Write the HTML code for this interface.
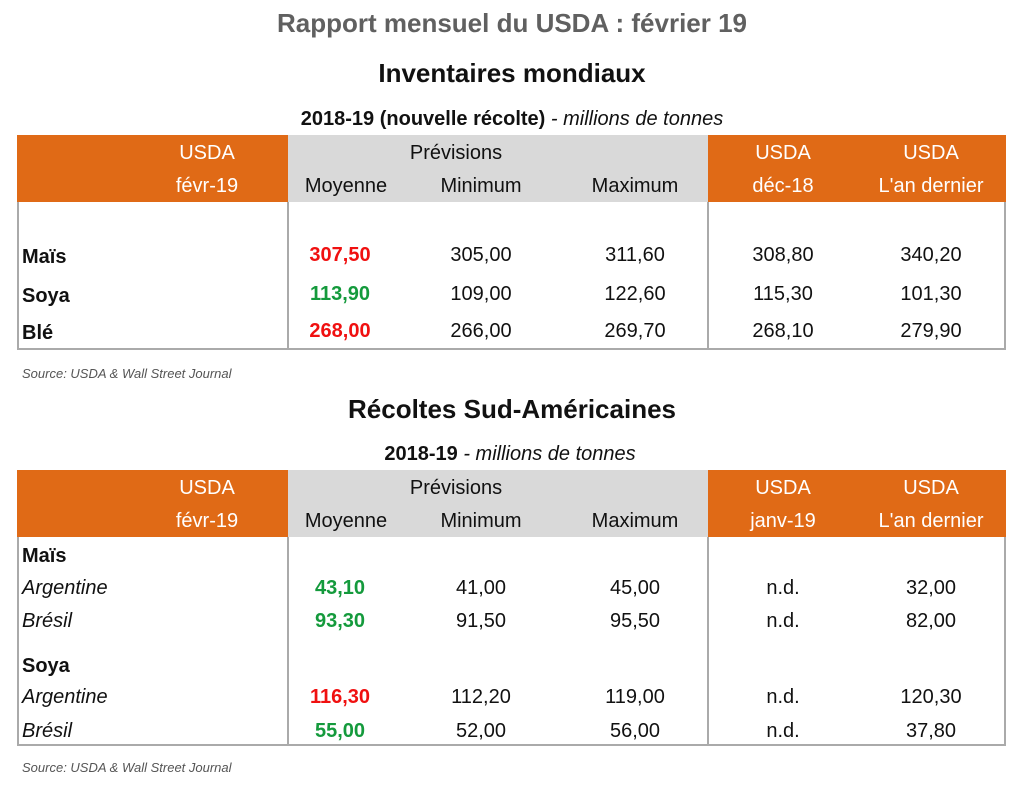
<!DOCTYPE html>
<html><head><meta charset="utf-8">
<style>
body{margin:0;width:1024px;height:786px;background:#fff;position:relative;overflow:hidden;font-family:"Liberation Sans",sans-serif;}
.a{position:absolute;white-space:nowrap;line-height:24px;height:24px;font-size:20px;color:#111;}
.c{transform:translateX(-50%);}
.box{position:absolute;}
</style></head><body>
<div class="a c" style="left:512px;top:8px;font-size:26px;line-height:30px;height:30px;font-weight:bold;color:#606060;">Rapport mensuel du USDA : février 19</div>
<div class="a c" style="left:512px;top:58px;font-size:26px;line-height:30px;height:30px;font-weight:bold;color:#111;">Inventaires mondiaux</div>
<div class="a c" style="left:512px;top:107px;"><b>2018-19 (nouvelle récolte)</b> <i>- millions de tonnes</i></div>
<div class="a c" style="left:512px;top:394px;font-size:26px;line-height:30px;height:30px;font-weight:bold;color:#111;">Récoltes Sud-Américaines</div>
<div class="a c" style="left:510px;top:442px;"><b>2018-19</b> <i>- millions de tonnes</i></div>
<div class="a" style="left:22px;top:362px;font-size:13px;font-style:italic;color:#555;">Source: USDA &amp; Wall Street Journal</div>
<div class="a" style="left:22px;top:756px;font-size:13px;font-style:italic;color:#555;">Source: USDA &amp; Wall Street Journal</div>
<div id="root"></div>
<script>
const colX=[340,481,635,783,931];
const t1Rows=["Maïs","Soya","Blé"];
const t1Vals=[["307,50","305,00","311,60","308,80","340,20"],["113,90","109,00","122,60","115,30","101,30"],["268,00","266,00","269,70","268,10","279,90"]];
const t1Color=["#f01010","#149a3c","#f01010"];
const t1Y=[255,294,331];
const t2Rows=["Maïs","Argentine","Brésil","Soya","Argentine","Brésil"];
const t2Vals=[null,["43,10","41,00","45,00","n.d.","32,00"],["93,30","91,50","95,50","n.d.","82,00"],null,["116,30","112,20","119,00","n.d.","120,30"],["55,00","52,00","56,00","n.d.","37,80"]];
const t2Color=[null,"#149a3c","#149a3c",null,"#f01010","#149a3c"];
const t2Y=[554,588,621,664,697,731];
const root=document.getElementById('root');
function txt(s,x,y,center,style){const d=document.createElement('div');d.className='a'+(center?' c':'');d.textContent=s;d.style.left=x+'px';d.style.top=(y-12)+'px';if(style)d.style.cssText+=style;root.appendChild(d);return d;}
function box(x,y,w,h,style){const d=document.createElement('div');d.className='box';d.style.cssText+=`left:${x}px;top:${y}px;width:${w}px;height:${h}px;`+style;root.appendChild(d);return d;}
function table(top,bodyH,hdr3,rows,vals,colors,ys,italicRows,tn){
  let b=box(17,top,271,67,'background:#e06a16;');
  
  
  b=box(288,top,420,67,'background:#d9d9d9;');
  
  
  b=box(708,top,298,67,'background:#e06a16;');
  
  
  b=box(17,top+67,989,bodyH,'border:2px solid #aaa;border-top:none;box-sizing:border-box;');
  
  
  b=box(287,top+67,2,bodyH,'background:#aaa;');
  
  
  b=box(707,top+67,2,bodyH,'background:#aaa;');
  
  
  const w='color:#fff;';
  const h=[["USDA",207,18,w],["févr-19",207,51,w],["Prévisions",456,18,""],["Moyenne",346,51,""],["Minimum",481,51,""],["Maximum",635,51,""],["USDA",783,18,w],[hdr3,783,51,w],["USDA",931,18,w],["L'an dernier",931,51,w]];
  h.forEach((e,i)=>{const d=txt(e[0],e[1],top+e[2],true,e[3]);
    
    });
  rows.forEach((r,i)=>{
    const it=italicRows[i];
    const d=txt(r,22,ys[i]+(it?0:2),false,it?'font-style:italic;':'font-weight:bold;');
    
    
    if(vals[i]) vals[i].forEach((v,j)=>{
      const c=txt(v,colX[j],ys[i],true,j==0?`font-weight:bold;color:${colors[i]};`:'');
      
      });
  });
}
table(135,148,"déc-18",t1Rows,t1Vals,t1Color,t1Y,[false,false,false],'inventory');
table(470,209,"janv-19",t2Rows,t2Vals,t2Color,t2Y,[false,true,true,false,true,true],'harvest');
</script>
</body></html>
